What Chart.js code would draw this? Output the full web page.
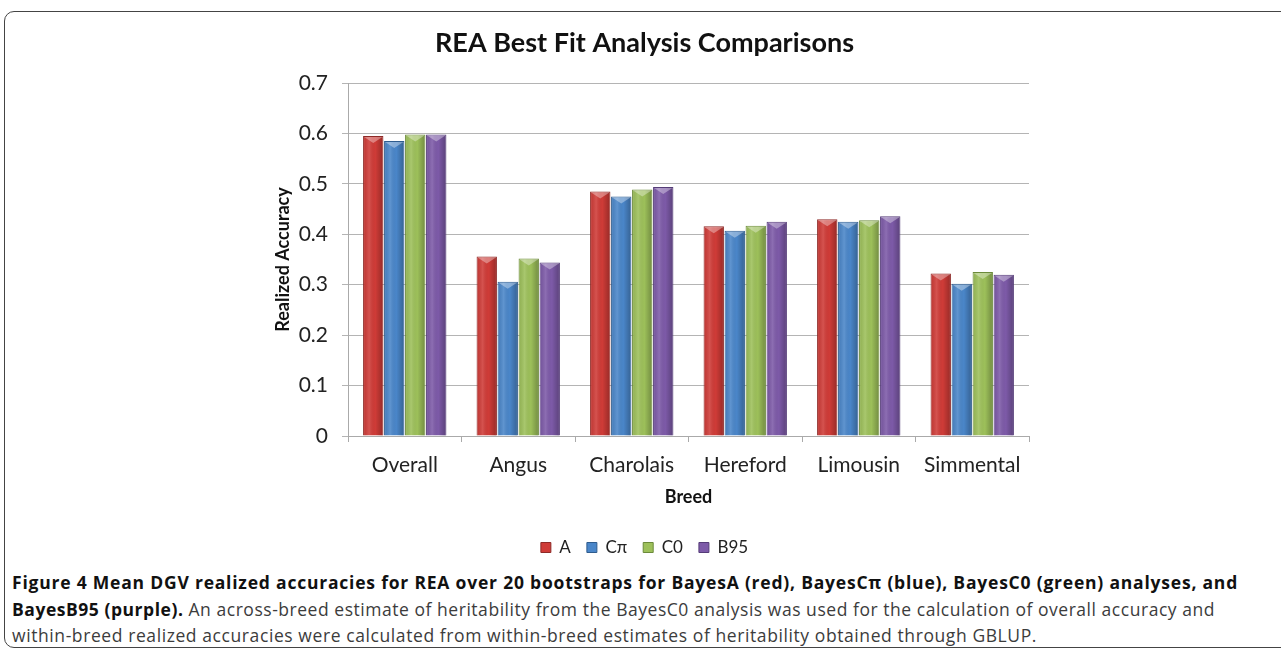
<!DOCTYPE html>
<html>
<head>
<meta charset="utf-8">
<script src="https://cdn.jsdelivr.net/npm/chart.js@4"></script>
<style>
  html, body { margin: 0; padding: 0; background: #fff; width: 1281px; height: 656px; overflow: hidden; }
  #frame { position: absolute; left: 4px; top: 11px; width: 1300px; height: 637px; border: 1.5px solid #444; border-radius: 10px; box-sizing: border-box; }
  #wrap { position: absolute; left: 0; top: 0; width: 1281px; height: 566px; }
  #caption { position: absolute; left: 12px; top: 569px; font-family: "Open Sans", sans-serif; font-size: 17.5px; line-height: 26.5px; color: #3c3c3c; white-space: nowrap; }
  #caption b { color: #111; }
  #caption .ln { display: block; }
</style>
</head>
<body>
<div id="frame"></div>
<div id="wrap"><canvas id="c" width="1281" height="566"></canvas></div>
<div id="caption"><span class="ln" data-w="1226"><b>Figure 4 Mean DGV realized accuracies for REA over 20 bootstraps for BayesA (red), BayesCπ (blue), BayesC0 (green) analyses, and</b></span><span class="ln" data-w="1203"><b>BayesB95 (purple).</b> An across-breed estimate of heritability from the BayesC0 analysis was used for the calculation of overall accuracy and</span><span class="ln" data-w="1025">within-breed realized accuracies were calculated from within-breed estimates of heritability obtained through GBLUP.</span></div>
<script>
const categories = ["Overall", "Angus", "Charolais", "Hereford", "Limousin", "Simmental"];
const seriesNames = ["A", "Cπ", "C0", "B95"];
const valuesA   = [0.595, 0.356, 0.485, 0.416, 0.430, 0.322];
const valuesCpi = [0.585, 0.306, 0.475, 0.407, 0.425, 0.302];
const valuesC0  = [0.598, 0.352, 0.489, 0.417, 0.428, 0.325];
const valuesB95 = [0.598, 0.344, 0.494, 0.425, 0.436, 0.320];
const yTicks = [0, 0.1, 0.2, 0.3, 0.4, 0.5, 0.6, 0.7];

const fills   = ["#cf3b37", "#4a86c9", "#9dc05a", "#7d5aa8"];
const borders = ["#8e2a27", "#2f5c8e", "#6b8a3a", "#553c78"];

// fit caption lines to the widths seen in the reference
document.querySelectorAll("#caption .ln").forEach(el => {
  el.style.display = "inline-block";
  const w = el.getBoundingClientRect().width;
  const n = el.textContent.length;
  const target = +el.dataset.w;
  el.style.letterSpacing = ((target - w) / n) + "px";
  el.style.display = "block";
});

const shade = {
  id: "shade",
  afterDatasetsDraw(chart) {
    const ctx = chart.ctx;
    chart.data.datasets.forEach((ds, di) => {
      const meta = chart.getDatasetMeta(di);
      meta.data.forEach(bar => {
        const w = bar.width, l = bar.x - w / 2, top = bar.y, bottom = bar.base;
        const g = ctx.createLinearGradient(l, 0, l + w, 0);
        g.addColorStop(0, "rgba(0,0,0,0.08)");
        g.addColorStop(0.3, "rgba(255,255,255,0.12)");
        g.addColorStop(0.6, "rgba(0,0,0,0.0)");
        g.addColorStop(1, "rgba(0,0,0,0.28)");
        ctx.save();
        ctx.fillStyle = g;
        ctx.fillRect(l + 1, top + 1, w - 2, bottom - top - 1);
        ctx.fillStyle = "rgba(255,255,255,0.35)";
        ctx.beginPath();
        ctx.moveTo(l + 1, top + 1);
        ctx.lineTo(l + w - 1, top + 1);
        ctx.lineTo(l + w / 2, top + 7);
        ctx.closePath();
        ctx.fill();
        ctx.restore();
      });
    });
  }
};

const allValues = [valuesA, valuesCpi, valuesC0, valuesB95];
new Chart(document.getElementById("c"), {
  type: "bar",
  data: {
    labels: categories,
    datasets: seriesNames.map((n, i) => ({
      label: n,
      data: allValues[i],
      backgroundColor: fills[i],
      borderColor: borders[i],
      borderWidth: 1,
      categoryPercentage: 0.74,
      barPercentage: 0.97
    }))
  },
  options: {
    responsive: false,
    devicePixelRatio: 1,
    animation: false,
    layout: { padding: { left: 260, right: 252, top: 0, bottom: 0 } },
    plugins: {
      title: {
        display: true,
        text: "REA Best Fit Analysis Comparisons",
        color: "#111",
        font: { family: "Lato", size: 27, weight: "bold" },
        padding: { top: 27, bottom: 23.6 }
      },
      legend: {
        position: "bottom",
        labels: {
          color: "#222",
          font: { family: "Lato", size: 17 },
          boxWidth: 10, boxHeight: 10, padding: 16
        }
      },
      tooltip: { enabled: false }
    },
    scales: {
      x: {
        grid: { drawOnChartArea: false, color: "#aaa", tickLength: 6, offset: true },
        border: { color: "#aaa" },
        ticks: { color: "#222", font: { family: "Lato", size: 21 }, padding: 11 },
        title: { display: true, text: "Breed", color: "#111", font: { family: "Lato", size: 18, weight: "bold" }, padding: { top: 4, bottom: 15 } },
        afterFit(s) { s.height = 87; }
      },
      y: {
        min: 0, max: 0.7,
        afterBuildTicks(s) { s.ticks = yTicks.map(v => ({ value: v })); },
        grid: { color: "#b4b4b4", tickLength: 6 },
        border: { color: "#aaa" },
        ticks: { color: "#222", font: { family: "Lato", size: 21 }, padding: 14 },
        title: { display: true, text: "Realized Accuracy", color: "#111", font: { family: "Lato", size: 18, weight: "bold" }, padding: { top: 12, bottom: 0 } },
        afterFit(s) { s.width = 88; }
      }
    }
  },
  plugins: [shade]
});
</script>
</body>
</html>
